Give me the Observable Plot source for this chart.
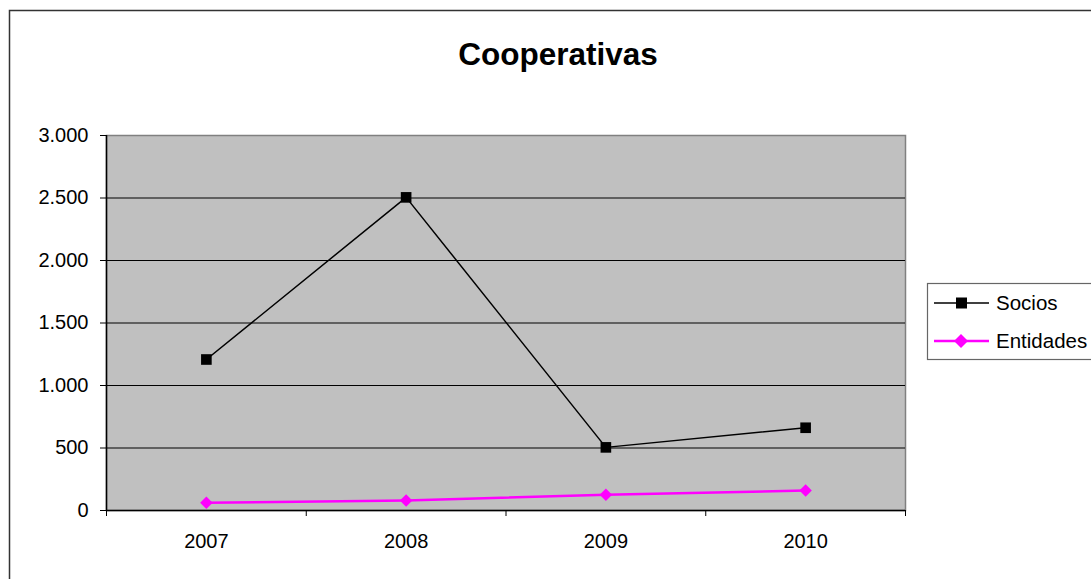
<!DOCTYPE html>
<html>
<head>
<meta charset="utf-8">
<script src="https://cdn.jsdelivr.net/npm/d3@7"></script>
<script src="https://cdn.jsdelivr.net/npm/@observablehq/plot@0.6"></script>
<style>
  html, body { margin: 0; padding: 0; background: #ffffff; }
  #wrap { position: relative; width: 1091px; height: 579px; overflow: hidden; }
  #chart, #overlay { position: absolute; left: 0; top: 0; }
  #overlay { pointer-events: none; }
</style>
</head>
<body>
<div id="wrap"><div id="chart"></div><svg id="overlay" width="1091" height="579"></svg></div>
<script>
// ---- data ----
const title = "Cooperativas";
const years = [2007, 2008, 2009, 2010];
const socios = [1208, 2505, 505, 662];
const entidades = [62, 80, 126, 160];
const yTicks = [0, 500, 1000, 1500, 2000, 2500, 3000];
const seriesNames = ["Socios", "Entidades"];
const seriesColors = ["#000000", "#FF00FF"];

// ---- build ----
const locale = d3.formatLocale({decimal: ",", thousands: ".", grouping: [3], currency: ["", ""]});
const fmt = locale.format(",");
const bounds = [years[0] - 0.5, ...years.map(y => y + 0.5)];
const rowsS = years.map((y, i) => ({year: y, value: socios[i]}));
const rowsE = years.map((y, i) => ({year: y, value: entidades[i]}));

const chart = Plot.plot({
  width: 1091,
  height: 579,
  marginLeft: 106,
  marginRight: 186,
  marginTop: 135,
  marginBottom: 69,
  x: {domain: [bounds[0], bounds[bounds.length - 1]]},
  y: {domain: [yTicks[0], yTicks[yTicks.length - 1]]},
  style: {fontFamily: "'Liberation Sans', Arial, sans-serif", fontSize: "20px", color: "#000", background: "transparent"},
  marks: [
    Plot.frame({fill: "#C0C0C0", stroke: "#808080", strokeWidth: 1.5}),
    Plot.ruleY(yTicks.slice(1, -1), {stroke: "#000", strokeWidth: 1}),
    Plot.ruleX([bounds[0]], {stroke: "#000", strokeWidth: 1.5}),
    Plot.ruleY([yTicks[0]], {stroke: "#000", strokeWidth: 1.5}),
    Plot.axisY({ticks: yTicks, tickSize: 6, tickPadding: 12, tickFormat: fmt, label: null, stroke: "#000"}),
    Plot.axisX({ticks: bounds, tickSize: 6, tickFormat: () => "", label: null, stroke: "#000"}),
    Plot.axisX({ticks: years, tickSize: 0, tickPadding: 23, tickFormat: d => String(d), label: null}),
    Plot.line(rowsS, {x: "year", y: "value", stroke: seriesColors[0], strokeWidth: 1.5}),
    Plot.dot(rowsS, {x: "year", y: "value", symbol: "square", r: 6, fill: seriesColors[0], stroke: "none"}),
    Plot.line(rowsE, {x: "year", y: "value", stroke: seriesColors[1], strokeWidth: 2.5}),
    Plot.dot(rowsE, {x: "year", y: "value", symbol: "diamond2", r: 5.6, fill: seriesColors[1], stroke: "none"})
  ]
});
document.getElementById("chart").appendChild(chart);

// ---- overlay: chart border, title, legend ----
const ov = d3.select("#overlay");
ov.append("rect").attr("x", 9.5).attr("y", 10.5).attr("width", 1200).attr("height", 700)
  .attr("fill", "none").attr("stroke", "#333").attr("stroke-width", 1.5);
ov.append("text").attr("x", 558).attr("y", 65).attr("text-anchor", "middle")
  .style("font-family", "'Liberation Sans', Arial, sans-serif").style("font-weight", "bold")
  .style("font-size", "31.5px").attr("fill", "#000").text(title);

const lg = ov.append("g");
lg.append("rect").attr("x", 927.5).attr("y", 283.5).attr("width", 200).attr("height", 76)
  .attr("fill", "#fff").attr("stroke", "#666").attr("stroke-width", 1.2);
const ys = [303, 341];
seriesNames.forEach((name, i) => {
  const y = ys[i];
  lg.append("line").attr("x1", 934).attr("x2", 989).attr("y1", y).attr("y2", y)
    .attr("stroke", seriesColors[i]).attr("stroke-width", i === 0 ? 1.5 : 2.5);
  if (i === 0) {
    lg.append("rect").attr("x", 956).attr("y", y - 5.5).attr("width", 11).attr("height", 11).attr("fill", seriesColors[i]);
  } else {
    lg.append("path").attr("d", `M961,${y - 7}L968,${y}L961,${y + 7}L954,${y}Z`).attr("fill", seriesColors[i]);
  }
  lg.append("text").attr("x", 996).attr("y", y).attr("dy", "0.36em")
    .style("font-family", "'Liberation Sans', Arial, sans-serif").style("font-size", "20.5px")
    .attr("fill", "#000").text(name);
});
</script>
</body>
</html>
